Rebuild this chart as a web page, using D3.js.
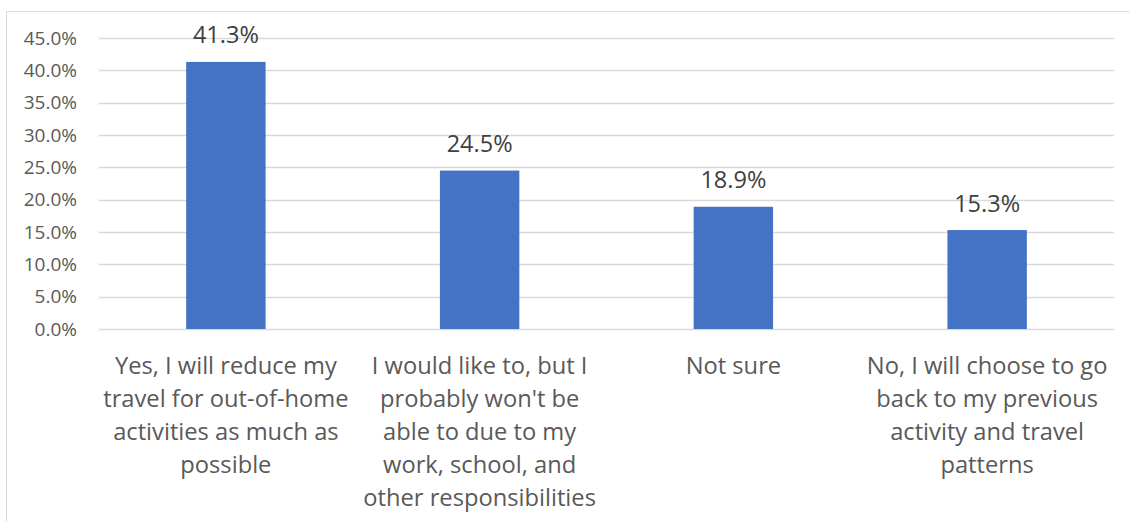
<!DOCTYPE html>
<html>
<head>
<meta charset="utf-8">
<script src="https://cdn.jsdelivr.net/npm/d3@7"></script>
<style>
  body { margin: 0; background: #fff; }
  svg { display: block; }
</style>
</head>
<body>
<div id="drawing"></div>
<script>
const width = 1129;
const height = 521;
const margin = {top: 38, right: 15, bottom: 192, left: 99};

// chart values
const categories = [
  "Yes, I will reduce my\ntravel for out-of-home\nactivities as much as\npossible",
  "I would like to, but I\nprobably won't be\nable to due to my\nwork, school, and\nother responsibilities",
  "Not sure",
  "No, I will choose to go\nback to my previous\nactivity and travel\npatterns"
];
const shares = [41.3, 24.5, 18.9, 15.3];
const yTicks = [0, 5, 10, 15, 20, 25, 30, 35, 40, 45];

const font = "'Open Sans', sans-serif";

const svg = d3.select("#drawing").append("svg")
  .attr("width", width)
  .attr("height", height);

// outer chart frame
svg.append("rect")
  .attr("x", 6.5).attr("y", 11.5)
  .attr("width", width + 20).attr("height", height + 20)
  .attr("fill", "#fff")
  .attr("stroke", "#d9d9d9");

const plotW = width - margin.left - margin.right;
const plotH = height - margin.top - margin.bottom;

const chart = svg.append("g")
  .attr("transform", `translate(${margin.left}, ${margin.top})`);

const xScale = d3.scaleBand()
  .domain(categories)
  .range([0, plotW])
  .paddingInner(0.687)
  .paddingOuter(0.687 / 2);

const yScale = d3.scaleLinear()
  .domain([0, 45])
  .range([plotH, 0]);

// gridlines
chart.selectAll(".grid")
  .data(yTicks)
  .enter()
  .append("line")
    .attr("class", "grid")
    .attr("x1", 0).attr("x2", plotW)
    .attr("y1", (d) => Math.round(yScale(d)) + 0.5)
    .attr("y2", (d) => Math.round(yScale(d)) + 0.5)
    .style("stroke", "#d9d9d9")
    .style("stroke-width", 1.3);

// y axis labels
const yAxis = chart.append("g")
  .attr("class", "yAxis left")
  .call(d3.axisLeft(yScale).tickValues(yTicks).tickFormat((d) => d.toFixed(1) + "%").tickSize(0).tickPadding(22));
yAxis.select(".domain").remove();
yAxis.selectAll("text")
  .style("font-family", font)
  .style("font-size", "19px")
  .style("fill", "#595959");

// bars
chart.selectAll(".bar")
  .data(shares)
  .enter()
  .append("rect")
    .attr("class", "bar")
    .attr("x", (d, i) => xScale(categories[i]))
    .attr("width", xScale.bandwidth())
    .attr("y", (d) => yScale(d))
    .attr("height", (d) => plotH - yScale(d))
    .style("fill", "#4472c4");

// value labels
chart.selectAll(".value")
  .data(shares)
  .enter()
  .append("text")
    .attr("class", "value")
    .attr("x", (d, i) => xScale(categories[i]) + xScale.bandwidth() / 2)
    .attr("y", (d) => yScale(d) - 18.5)
    .attr("text-anchor", "middle")
    .style("font-family", font)
    .style("font-size", "23.5px")
    .style("fill", "#404040")
    .text((d) => d.toFixed(1) + "%");

// category labels
const catLabels = chart.selectAll(".cat")
  .data(categories)
  .enter()
  .append("text")
    .attr("class", "cat")
    .attr("transform", (d) => `translate(${xScale(d) + xScale.bandwidth() / 2}, ${plotH + 45})`)
    .attr("text-anchor", "middle")
    .style("font-family", font)
    .style("font-size", "23.7px")
    .style("fill", "#595959");

catLabels.selectAll("tspan")
  .data((d) => d.split("\n"))
  .enter()
  .append("tspan")
    .attr("x", 0)
    .attr("y", (d, i) => i * 33)
    .text((d) => d);
</script>
</body>
</html>
